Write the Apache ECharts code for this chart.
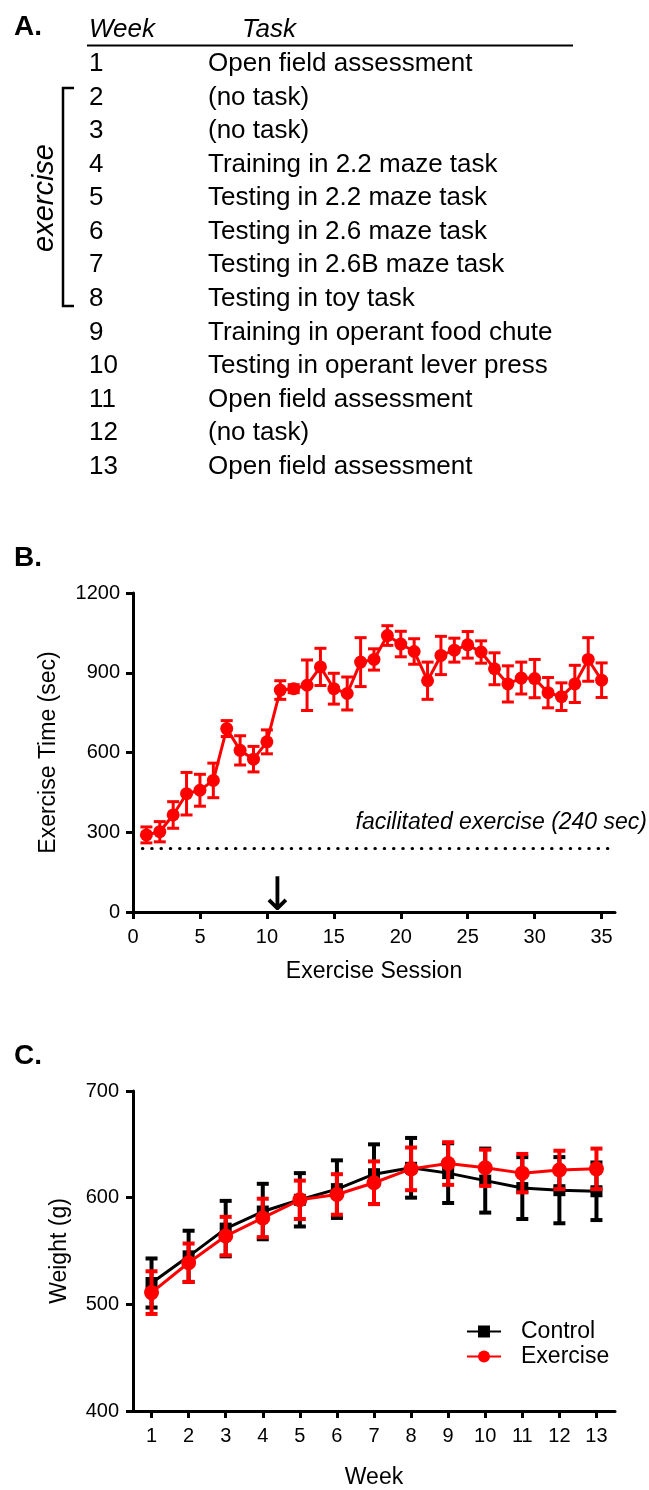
<!DOCTYPE html>
<html>
<head>
<meta charset="utf-8">
<script src="https://cdn.jsdelivr.net/npm/echarts@6/dist/echarts.min.js"></script>
<style>
  html, body { margin: 0; padding: 0; background: #fff; }
  #chart { width: 649px; height: 1490px; }
</style>
</head>
<body>
<div id="chart"></div>
<script>
  // A. schedule table
  const weeks = ["1", "2", "3", "4", "5", "6", "7", "8", "9", "10", "11", "12", "13"]
  const tasks = [
    "Open field assessment", "(no task)", "(no task)", "Training in 2.2 maze task",
    "Testing in 2.2 maze task", "Testing in 2.6 maze task", "Testing in 2.6B maze task",
    "Testing in toy task", "Training in operant food chute", "Testing in operant lever press",
    "Open field assessment", "(no task)", "Open field assessment"
  ]

  // B. exercise time per session
  const sessions = [1, 2, 3, 4, 5, 6, 7, 8, 9, 10, 11, 12, 13, 14, 15, 16, 17, 18,
    19, 20, 21, 22, 23, 24, 25, 26, 27, 28, 29, 30, 31, 32, 33, 34, 35]
  const exerciseTime = [290, 302, 365, 445, 458, 495, 690, 608, 575, 640, 835, 840,
    853, 922, 840, 822, 940, 950, 1040, 1008, 980, 870, 965, 985, 1005, 978, 915,
    858, 880, 878, 825, 810, 858, 950, 872]
  const exerciseTimeErr = [30, 38, 50, 80, 60, 65, 30, 55, 48, 45, 35, 15, 95, 70,
    58, 62, 92, 40, 37, 48, 48, 70, 72, 45, 50, 42, 60, 68, 60, 72, 57, 52, 70, 82, 65]
  const facilitated = 240
  const arrowSession = 10.8
  const sessionTicks = [0, 5, 10, 15, 20, 25, 30, 35]

  // C. weight per week
  const weekLabels = ["1", "2", "3", "4", "5", "6", "7", "8", "9", "10", "11", "12", "13"]
  const controlWeight = [520, 545, 571, 587, 598, 608, 622, 628, 623, 616, 609, 607, 606]
  const controlErr = [23, 24, 26, 26, 25, 27, 28, 28, 28, 30, 29, 31, 27]
  const exerciseWeight = [511, 539, 564, 581, 598, 603, 614, 627, 632, 628, 623, 626, 627]
  const exerciseErr = [20, 18, 18, 18, 18, 19, 20, 20, 20, 17, 18, 18, 19]

  const FONT = "'Liberation Sans', Arial, sans-serif"
  const RED = "#ff0000"

  function errorBars(color, capHalf, width) {
    return function (params, api) {
      const x = api.value(0)
      const top = api.coord([x, api.value(2)])
      const bot = api.coord([x, api.value(1)])
      const style = {stroke: color, lineWidth: width}
      return {
        type: "group",
        children: [
          {type: "line", shape: {x1: top[0], y1: top[1], x2: bot[0], y2: bot[1]}, style},
          {type: "line", shape: {x1: top[0] - capHalf, y1: top[1], x2: top[0] + capHalf, y2: top[1]}, style},
          {type: "line", shape: {x1: bot[0] - capHalf, y1: bot[1], x2: bot[0] + capHalf, y2: bot[1]}, style}
        ]
      }
    }
  }

  function axisBase() {
    return {
      axisLine: {show: true, lineStyle: {color: "#000", width: 3}},
      axisTick: {show: true, length: 7, lineStyle: {color: "#000", width: 3}},
      axisLabel: {color: "#000", fontSize: 20, fontFamily: FONT},
      splitLine: {show: false},
      nameLocation: "middle",
      nameTextStyle: {color: "#000", fontSize: 23, fontFamily: FONT}
    }
  }

  function txt(x, y, text, extra) {
    return {
      type: "text", x: x, y: y,
      style: Object.assign({
        text: text, fill: "#000", fontSize: 26, fontFamily: FONT,
        textAlign: "left", textVerticalAlign: "middle", align: "left", verticalAlign: "middle"
      }, extra || {})
    }
  }

  // table graphics
  const graphics = [
    txt(14, 27, "A.", {fontSize: 28, fontWeight: "bold"}),
    txt(14, 558, "B.", {fontSize: 28, fontWeight: "bold"}),
    txt(14, 1056, "C.", {fontSize: 28, fontWeight: "bold"}),
    txt(89, 30, "Week", {fontStyle: "italic"}),
    txt(242, 30, "Task", {fontStyle: "italic"}),
    {type: "line", shape: {x1: 87, y1: 45.5, x2: 573, y2: 45.5}, style: {stroke: "#000", lineWidth: 2}},
    {type: "polyline", shape: {points: [[74, 88], [63, 88], [63, 306], [74, 306]]},
      style: {stroke: "#000", lineWidth: 2.5, fill: null}},
    {type: "text", x: 45, y: 198, rotation: Math.PI / 2,
      style: {text: "exercise", fill: "#000", fontSize: 29, fontStyle: "italic", fontFamily: FONT,
        textAlign: "center", textVerticalAlign: "middle", align: "center", verticalAlign: "middle"}},
    txt(647, 823, "facilitated exercise (240 sec)",
      {fontSize: 23, fontStyle: "italic", textAlign: "right", align: "right"})
  ]
  weeks.forEach((w, i) => {
    graphics.push(txt(89, 64 + 33.55 * i, w))
    graphics.push(txt(208, 64 + 33.55 * i, tasks[i]))
  })

  let myChart = echarts.init(document.getElementById("chart"))
  myChart.setOption({
    animation: false,
    graphic: graphics,
    grid: [
      {left: 133, top: 593, width: 482, height: 319},
      {left: 133, top: 1091, width: 482, height: 321}
    ],
    legend: {
      data: ["Control", "Exercise"],
      orient: "vertical",
      left: 461,
      top: 1315,
      itemWidth: 34,
      itemHeight: 15,
      itemGap: 2,
      textStyle: {color: "#000", fontSize: 23, fontFamily: FONT, padding: [0, 0, 0, 15]}
    },
    xAxis: [
      Object.assign(axisBase(), {
        gridIndex: 0, type: "value", min: 0, max: 36, interval: 5,
        name: "Exercise Session", nameGap: 48,
        axisTick: {show: true, length: 7, customValues: sessionTicks, lineStyle: {color: "#000", width: 3}},
        axisLabel: {color: "#000", fontSize: 20, fontFamily: FONT, margin: 15, customValues: sessionTicks}
      }),
      Object.assign(axisBase(), {
        gridIndex: 1, type: "category", data: weekLabels, boundaryGap: true,
        name: "Week", nameGap: 55,
        axisTick: {show: true, length: 7, alignWithLabel: true, lineStyle: {color: "#000", width: 3}},
        axisLabel: {color: "#000", fontSize: 20, fontFamily: FONT, margin: 15}
      })
    ],
    yAxis: [
      Object.assign(axisBase(), {
        gridIndex: 0, type: "value", min: 0, max: 1200, interval: 300,
        name: "Exercise Time (sec)", nameGap: 73,
        axisLabel: {color: "#000", fontSize: 20, fontFamily: FONT, margin: 13, formatter: v => String(v)}
      }),
      Object.assign(axisBase(), {
        gridIndex: 1, type: "value", min: 400, max: 700, interval: 100,
        name: "Weight (g)", nameGap: 62,
        axisLabel: {color: "#000", fontSize: 20, fontFamily: FONT, margin: 14, formatter: v => String(v)}
      })
    ],
    series: [
      {
        type: "custom", xAxisIndex: 0, yAxisIndex: 0, z: 2, silent: true,
        renderItem: errorBars(RED, 6, 3),
        encode: {x: 0, y: [1, 2]},
        data: sessions.map((s, i) => [s, exerciseTime[i] - exerciseTimeErr[i], exerciseTime[i] + exerciseTimeErr[i]])
      },
      {
        name: "Exercise time", type: "line", xAxisIndex: 0, yAxisIndex: 0, z: 3, silent: true,
        symbol: "circle", symbolSize: 13,
        itemStyle: {color: RED},
        lineStyle: {color: RED, width: 3},
        data: sessions.map((s, i) => [s, exerciseTime[i]]),
        markLine: {
          silent: true, symbol: ["none", "none"], label: {show: false},
          lineStyle: {color: "#000", width: 3, type: [0.5, 8.8], cap: "round"},
          data: [[{coord: [0.7, facilitated]}, {coord: [36, facilitated]}]]
        },
        markPoint: {
          silent: true, symbol: "rect", symbolSize: 0,
          label: {show: true, position: "top", distance: -9, formatter: "↓", color: "#000",
            fontSize: 46, fontFamily: "'DejaVu Sans', sans-serif"},
          data: [{coord: [arrowSession, 0]}]
        }
      },
      {
        type: "custom", xAxisIndex: 1, yAxisIndex: 1, z: 2, silent: true,
        renderItem: errorBars("#000", 6, 4),
        encode: {x: 0, y: [1, 2]},
        data: controlWeight.map((v, i) => [i, v - controlErr[i], v + controlErr[i]])
      },
      {
        name: "Control", type: "line", xAxisIndex: 1, yAxisIndex: 1, z: 3, silent: true,
        symbol: "rect", symbolSize: 12,
        itemStyle: {color: "#000"},
        lineStyle: {color: "#000", width: 3},
        data: controlWeight
      },
      {
        type: "custom", xAxisIndex: 1, yAxisIndex: 1, z: 4, silent: true,
        renderItem: errorBars(RED, 6, 4),
        encode: {x: 0, y: [1, 2]},
        data: exerciseWeight.map((v, i) => [i, v - exerciseErr[i], v + exerciseErr[i]])
      },
      {
        name: "Exercise", type: "line", xAxisIndex: 1, yAxisIndex: 1, z: 5, silent: true,
        symbol: "circle", symbolSize: 15,
        itemStyle: {color: RED},
        lineStyle: {color: RED, width: 3},
        data: exerciseWeight
      }
    ]
  })
</script>
</body>
</html>
